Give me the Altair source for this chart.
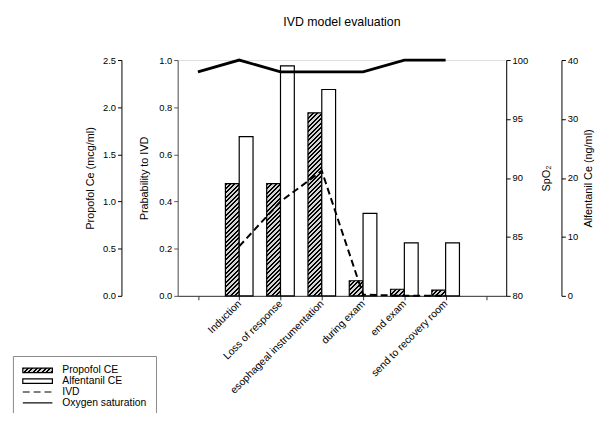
import json
import math
import altair as alt
import pandas as pd

# ---------------- data ----------------
stages = ["", "Induction", "Loss of response", "esophageal instrumentation",
          "during exam", "end exam", "send to recovery room", ""]
propofol_ce = [None, 1.19, 1.19, 1.94, 0.16, 0.07, 0.06]      # mcg/ml
alfentanil_ce = [None, 27.0, 39.0, 35.0, 14.0, 9.0, 9.0]      # ng/ml
ivd_prob = [None, 0.21, 0.40, 0.53, 0.005, 0.0, 0.0]          # probability
spo2 = [99, 100, 99, 99, 99, 100, 100]                         # %
legend_labels = ["Propofol CE", "Alfentanil CE", "IVD", "Oxygen saturation"]

propofol_ticks = [0, 0.5, 1.0, 1.5, 2.0, 2.5]
prob_ticks = [0, 0.2, 0.4, 0.6, 0.8, 1.0]
spo2_ticks = [80, 85, 90, 95, 100]
alf_ticks = [0, 10, 20, 30, 40]

n = len(spo2)
df = pd.DataFrame({
    "pos": list(range(n)),
    "stage": stages[:n],
    "propofol": propofol_ce,
    "alfentanil": alfentanil_ce,
    "ivd": ivd_prob,
    "spo2": spo2,
})
legend_df = pd.DataFrame({"series": legend_labels})

# ---------------- layout / style ----------------
W, H = 333, 239
BAR_W = 14
FONT = "Liberation Sans"
PROP_MAX = 2.5


def stripe_stops(length, period, dark_frac, dark="#000000", light="#d4d4d4"):
    cnt = int(math.ceil(length / period))
    parts = []
    for i in range(cnt):
        a = min(i * period / length, 1)
        b = min((i * period + period * dark_frac) / length, 1)
        c = min((i + 1) * period / length, 1)
        for off, col in ((a, dark), (b, dark), (b, light), (c, light)):
            parts.append("{offset:%.4f,color:'%s'}" % (off, col))
    return "[" + ",".join(parts) + "]"


# diagonal hatch for the propofol bars (gradient in bounding-box units,
# oriented so that the stripes run at 45 degrees whatever the bar height)
L_BAR = 150.0
K_BAR = L_BAR * math.sqrt(2)
h_px = "(datum.propofol/%s*%s)" % (PROP_MAX, H)
den = "(%d+%s*%s)" % (BAR_W * BAR_W, h_px, h_px)
bar_grad = ("{gradient:'linear',x1:0,y1:0,x2:%.4f/%s,y2:%.4f*%s/%s,stops:%s}"
            % (K_BAR * BAR_W, den, K_BAR, h_px, den, stripe_stops(L_BAR, 3.2, 0.45)))

# legend symbol hatch (symbol 30 x 4.5 px)
LW, LH = 30.0, 4.5
L_LEG = 30.0
k_leg = L_LEG * math.sqrt(2) / (LW * LW + LH * LH)
leg_grad = ("{gradient:'linear',x1:0,y1:0,x2:%.4f,y2:%.4f,stops:%s}"
            % (k_leg * LW, k_leg * LH, stripe_stops(L_LEG, 3.2, 0.45)))

x_scale = alt.Scale(domain=[-0.371, 7.348], nice=False, zero=False)
x_axis = alt.Axis(values=list(range(len(stages))),
                  labelExpr=json.dumps(stages) + "[datum.value]",
                  title=None, grid=False, tickSize=4, labelAngle=-45,
                  labelAlign="right", labelBaseline="middle", labelOverlap=False,
                  labelFontSize=10.5, labelPadding=2, labelFont=FONT,
                  domainColor="#333333", tickColor="#333333", labelColor="black")
X = alt.X("pos:Q", scale=x_scale, axis=x_axis)


def yaxis(orient, offset, values, fmt, title, title_pad, color="black", right=False):
    kw = {}
    if right:
        kw["titleAngle"] = 270
        kw["titleBaseline"] = "top"
    return alt.Axis(orient=orient, offset=offset, values=values, format=fmt,
                    title=title, titlePadding=title_pad, grid=False, tickSize=4,
                    labelFontSize=9.5, labelPadding=2, titleFontSize=11,
                    titleFontWeight="normal", domainColor=color, tickColor=color,
                    labelColor="black", titleColor="black", labelFont=FONT,
                    titleFont=FONT, **kw)


propofol_layer = (
    alt.Chart(df)
    .transform_filter("isValid(datum.propofol)")
    .transform_calculate(grad=bar_grad)
    .mark_bar(width=BAR_W, xOffset=-BAR_W / 2, stroke="black", strokeWidth=1.2)
    .encode(
        x=X,
        y=alt.Y("propofol:Q", scale=alt.Scale(domain=[0, PROP_MAX], nice=False),
                axis=yaxis("left", 57, propofol_ticks, ".1f",
                           "Propofol Ce (mcg/ml)", 7)),
        fill=alt.Fill("grad:N", scale=None),
    )
)

alf_layer = (
    alt.Chart(df)
    .transform_filter("isValid(datum.alfentanil)")
    .mark_bar(width=BAR_W, xOffset=BAR_W / 2, fill="white", stroke="black",
              strokeWidth=1.2)
    .encode(
        x=X,
        y=alt.Y("alfentanil:Q", scale=alt.Scale(domain=[0, 40], nice=False),
                axis=yaxis("right", 56, alf_ticks, "d",
                           "Alfentanil Ce (ng/ml)", 5, right=True)),
    )
)

ivd_layer = (
    alt.Chart(df)
    .transform_filter("isValid(datum.ivd)")
    .mark_line(color="black", strokeWidth=2, strokeDash=[7, 4])
    .encode(
        x=X,
        y=alt.Y("ivd:Q", scale=alt.Scale(domain=[0, 1], nice=False),
                axis=yaxis("left", 0, prob_ticks, ".1f",
                           "Prabability to IVD", 9, color="#555555")),
    )
)

spo2_layer = (
    alt.Chart(df)
    .mark_line(color="black", strokeWidth=2.8)
    .encode(
        x=X,
        y=alt.Y("spo2:Q", scale=alt.Scale(domain=[80, 100], nice=False, zero=False),
                axis=yaxis("right", 0, spo2_ticks, "d", "SpO\u2082", 13, right=True)),
    )
)

bar_path = "M-1,-0.5H5.667V0.5H-1Z"
line_path = "M-1,0H5.667"
leg = alt.Legend(
    title=None, orient="none", legendX=-167, legendY=300,
    strokeColor="#888888", padding=9, rowPadding=-2,
    symbolSize=81, labelFontSize=10.5, labelOffset=30,
    labelFont=FONT, labelColor="black", symbolOpacity=1,
)
legend_layer = (
    alt.Chart(legend_df)
    .transform_filter("false")
    .mark_point(opacity=1, stroke="black", filled=False)
    .encode(
        shape=alt.Shape("series:O", legend=leg,
                        scale=alt.Scale(domain=legend_labels,
                                        range=[bar_path, bar_path, line_path, line_path])),
        fill=alt.Fill("series:O", legend=leg,
                      scale=alt.Scale(domain=legend_labels,
                                      range=[alt.ExprRef(leg_grad), "white",
                                             "transparent", "transparent"])),
        strokeDash=alt.StrokeDash("series:O", legend=leg,
                                  scale=alt.Scale(domain=legend_labels,
                                                  range=[[100, 0], [100, 0], [7, 4], [100, 0]])),
        strokeWidth=alt.StrokeWidth("series:O", legend=leg,
                                    scale=alt.Scale(domain=legend_labels,
                                                    range=[1.2, 1.2, 2.5, 2.5])),
    )
)

chart = (
    alt.layer(propofol_layer, alf_layer, ivd_layer, spo2_layer, legend_layer)
    .resolve_scale(y="independent")
    .properties(
        width=W, height=H,
        autosize=alt.AutoSizeParams(type="none"),
        padding={"left": 172, "top": 50, "right": 90, "bottom": 116},
        title=alt.Title("IVD model evaluation", fontSize=12.5, fontWeight="normal",
                        font=FONT, anchor="middle", offset=26, color="black"),
    )
    .configure_view(stroke=None)
    .configure(font=FONT)
)

chart.save("out.html", embed_options={"renderer": "svg", "actions": False})
